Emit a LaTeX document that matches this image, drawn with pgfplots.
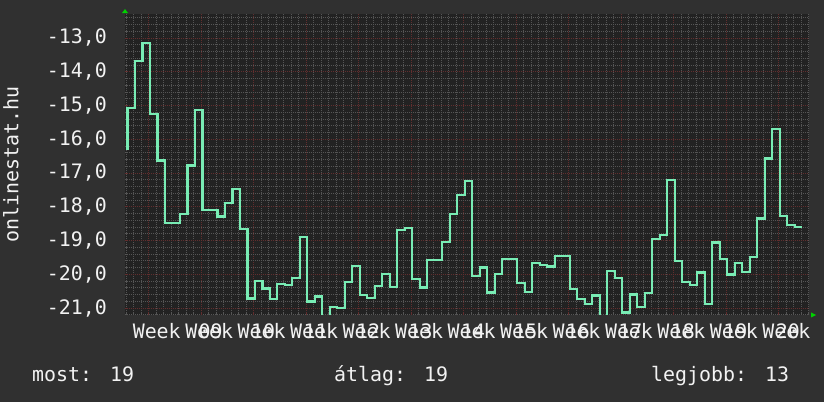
\documentclass[border=0pt]{standalone}
\usepackage{pgfplots}
\pgfplotsset{compat=1.18}
\usepackage{fontspec}
\setmainfont{DejaVu Sans Mono}

\definecolor{outerbg}{RGB}{48,48,48}
\definecolor{plotbg}{RGB}{34,34,34}
\definecolor{minorgrid}{RGB}{85,85,85}
\definecolor{majorgrid}{RGB}{98,46,46}
\definecolor{linecol}{RGB}{120,236,180}
\definecolor{arrowgreen}{RGB}{0,210,0}
\definecolor{txt}{RGB}{242,242,242}

% rrdtool renders the space wider than the other glyphs
\newcommand{\rrdfont}{\frenchspacing\fontsize{19.9bp}{24bp}\selectfont\spaceskip=18bp\xspaceskip=18bp\relax}

\begin{document}
\frenchspacing
\begin{tikzpicture}
\useasboundingbox (0,0) rectangle (824bp,402bp);
\fill[outerbg] (0,0) rectangle (824bp,402bp);
\begin{axis}[
    name=ax,
    at={(125bp,87bp)}, anchor=south west,
    scale only axis,
    width=684bp, height=301bp,
    xmin=-3.2, xmax=88.05,
    ymin=-21.207, ymax=-12.289,
    axis background/.style={fill=plotbg},
    axis line style={draw=none},
    font=\rrdfont,
    tick label style={text=txt},
    tick pos=left,
    tick align=inside,
    major tick length=3bp,
    minor tick length=2bp,
    xtick={0,7,...,84},
    xticklabels={},
    minor xtick={-3,-2,...,88},
    ytick={-21,-20,...,-13},
    yticklabels={{-21,0},{-20,0},{-19,0},{-18,0},{-17,0},{-16,0},{-15,0},{-14,0},{-13,0}},
    minor ytick={-21.2,-20.8,-20.6,-20.4,-20.2,-19.8,-19.6,-19.4,-19.2,-18.8,-18.6,-18.4,-18.2,-17.8,-17.6,-17.4,-17.2,-16.8,-16.6,-16.4,-16.2,-15.8,-15.6,-15.4,-15.2,-14.8,-14.6,-14.4,-14.2,-13.8,-13.6,-13.4,-13.2,-12.8,-12.6,-12.4},
    grid=both,
    minor grid style={draw=minorgrid, line width=1bp, dash pattern=on 1bp off 1bp},
    major grid style={draw=majorgrid, line width=1bp, dash pattern=on 1bp off 1bp},
    major tick style={draw=majorgrid, line width=1bp},
    minor tick style={draw=minorgrid, line width=1bp},
    yticklabel style={inner sep=0pt, anchor=east, xshift=-18bp},
    xticklabel style={inner sep=0pt, anchor=north, yshift=-8bp, xshift=2.5bp},
    extra x ticks={3.5,10.5,...,87.5},
    extra x tick labels={Week 09,Week 10,Week 11,Week 12,Week 13,Week 14,Week 15,Week 16,Week 17,Week 18,Week 19,Week 20,Week 21},
    extra x tick style={grid=none, major tick length=0pt},
]
\addplot[const plot, draw=linecol, line width=2.2bp] table {
x v
-3.07 -16.30
-2.87 -15.07
-1.87 -13.68
-0.87 -13.14
0.13 -15.24
1.13 -16.63
2.13 -18.49
3.13 -18.47
4.13 -18.22
5.13 -16.78
6.13 -15.14
7.13 -18.10
8.13 -18.10
9.13 -18.29
10.13 -17.90
11.13 -17.47
12.13 -18.65
13.13 -20.72
14.13 -20.19
15.13 -20.42
16.13 -20.74
17.13 -20.29
18.13 -20.31
19.13 -20.12
20.13 -18.89
21.13 -20.81
22.13 -20.66
23.13 -21.30
24.13 -20.96
25.13 -21.01
26.13 -20.23
27.13 -19.76
28.13 -20.61
29.13 -20.71
30.13 -20.35
31.13 -19.99
32.13 -20.37
33.13 -18.69
34.13 -18.63
35.13 -20.13
36.13 -20.39
37.13 -19.57
38.13 -19.57
39.13 -19.05
40.13 -18.22
41.13 -17.66
42.13 -17.23
43.13 -20.04
44.13 -19.80
45.13 -20.54
46.13 -19.99
47.13 -19.54
48.13 -19.54
49.13 -20.25
50.13 -20.53
51.13 -19.66
52.13 -19.73
53.13 -19.77
54.13 -19.46
55.13 -19.46
56.13 -20.43
57.13 -20.73
58.13 -20.87
59.13 -20.63
60.13 -21.30
61.13 -19.90
62.13 -20.10
63.13 -21.13
64.13 -20.60
65.13 -20.96
66.13 -20.55
67.13 -18.95
68.13 -18.83
69.13 -17.21
70.13 -19.61
71.13 -20.23
72.13 -20.31
73.13 -19.95
74.13 -20.88
75.13 -19.06
76.13 -19.54
77.13 -20.01
78.13 -19.66
79.13 -19.93
80.13 -19.48
81.13 -18.35
82.13 -16.57
83.13 -15.70
84.13 -18.27
85.13 -18.54
86.13 -18.60
87.13 -18.60
};
\end{axis}
% rrd style axis arrows
\fill[arrowgreen] ([xshift=-3bp,yshift=1bp]ax.north west) -- ++(6bp,0) -- ++(-3bp,4bp) -- cycle;
\fill[arrowgreen] ([xshift=2bp,yshift=-2.5bp]ax.south east) -- ++(0,5bp) -- ++(5bp,-2.5bp) -- cycle;
% title and summary line
\node[rotate=90, anchor=base, inner sep=0pt, text=txt, font=\rrdfont] at (18.3bp,237.5bp) {onlinestat.hu};
\node[anchor=base west, inner sep=0pt, text=txt, font=\rrdfont] at (32bp,21bp) {most: 19};
\node[anchor=base west, inner sep=0pt, text=txt, font=\rrdfont] at (334bp,21bp) {átlag: 19};
\node[anchor=base west, inner sep=0pt, text=txt, font=\rrdfont] at (651bp,21bp) {legjobb: 13};
\end{tikzpicture}
\end{document}
